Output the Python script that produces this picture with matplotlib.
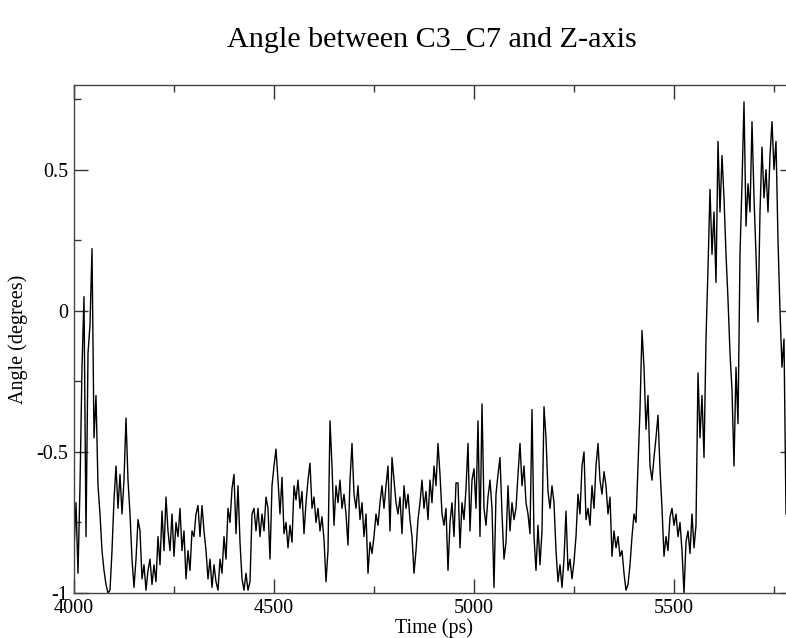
import numpy as np
import matplotlib
matplotlib.use("Agg")
import matplotlib.pyplot as plt
from matplotlib.ticker import MultipleLocator, FuncFormatter

t_start = 4000
t_step = 5
angle = [
    -0.85, -0.68, -0.93, -0.62, -0.20, 0.05, -0.80, -0.15, -0.05, 0.22,
    -0.45, -0.30, -0.62, -0.72, -0.85, -0.92, -0.97, -1.00, -0.99, -0.85,
    -0.67, -0.55, -0.70, -0.58, -0.72, -0.60, -0.38, -0.60, -0.72, -0.88,
    -0.98, -0.88, -0.74, -0.78, -0.95, -0.90, -0.99, -0.92, -0.88, -0.97,
    -0.90, -0.96, -0.80, -0.90, -0.71, -0.85, -0.66, -0.78, -0.85, -0.72,
    -0.87, -0.75, -0.80, -0.70, -0.85, -0.78, -0.95, -0.85, -0.92, -0.78,
    -0.80, -0.72, -0.69, -0.80, -0.69, -0.78, -0.85, -0.95, -0.88, -0.98,
    -0.90, -0.96, -0.99, -0.88, -0.93, -0.80, -0.88, -0.70, -0.75, -0.63,
    -0.58, -0.79, -0.62, -0.82, -0.95, -0.99, -0.93, -0.99, -0.96, -0.72,
    -0.70, -0.78, -0.70, -0.80, -0.72, -0.78, -0.66, -0.70, -0.88, -0.62,
    -0.55, -0.49, -0.60, -0.72, -0.59, -0.79, -0.75, -0.84, -0.76, -0.82,
    -0.62, -0.67, -0.60, -0.70, -0.64, -0.79, -0.68, -0.60, -0.54, -0.70,
    -0.66, -0.75, -0.70, -0.78, -0.73, -0.81, -0.96, -0.85, -0.39, -0.55,
    -0.76, -0.62, -0.68, -0.60, -0.70, -0.65, -0.72, -0.83, -0.60, -0.47,
    -0.65, -0.70, -0.62, -0.74, -0.68, -0.80, -0.72, -0.93, -0.82, -0.86,
    -0.80, -0.72, -0.76, -0.68, -0.62, -0.70, -0.62, -0.55, -0.78, -0.52,
    -0.60, -0.68, -0.72, -0.66, -0.79, -0.62, -0.70, -0.65, -0.74, -0.80,
    -0.93, -0.85, -0.74, -0.68, -0.60, -0.70, -0.64, -0.74, -0.60, -0.68,
    -0.55, -0.62, -0.47, -0.58, -0.72, -0.76, -0.70, -0.92, -0.75, -0.68,
    -0.80, -0.61, -0.61, -0.84, -0.68, -0.74, -0.63, -0.47, -0.78, -0.60,
    -0.56, -0.70, -0.39, -0.80, -0.33, -0.70, -0.76, -0.66, -0.60, -0.70,
    -0.98, -0.65, -0.58, -0.52, -0.72, -0.88, -0.82, -0.62, -0.78, -0.68,
    -0.74, -0.70, -0.58, -0.47, -0.62, -0.55, -0.68, -0.72, -0.79, -0.35,
    -0.80, -0.92, -0.76, -0.90, -0.78, -0.34, -0.45, -0.64, -0.70, -0.62,
    -0.68, -0.85, -0.96, -0.90, -0.98, -0.88, -0.71, -0.92, -0.88, -0.95,
    -0.89, -0.80, -0.65, -0.72, -0.55, -0.50, -0.74, -0.70, -0.76, -0.62,
    -0.70, -0.55, -0.47, -0.60, -0.65, -0.57, -0.62, -0.72, -0.66, -0.87,
    -0.78, -0.84, -0.80, -0.87, -0.85, -0.93, -0.99, -0.97, -0.90, -0.80,
    -0.72, -0.75, -0.55, -0.35, -0.07, -0.20, -0.42, -0.30, -0.55, -0.60,
    -0.52, -0.45, -0.37, -0.56, -0.70, -0.87, -0.80, -0.85, -0.73, -0.70,
    -0.76, -0.72, -0.80, -0.75, -0.85, -1.00, -0.82, -0.78, -0.86, -0.72,
    -0.84, -0.76, -0.22, -0.45, -0.30, -0.52, -0.10, 0.15, 0.43, 0.20,
    0.35, 0.10, 0.60, 0.35, 0.55, 0.40, 0.20, 0.04, -0.15, -0.28,
    -0.55, -0.20, -0.40, 0.20, 0.45, 0.74, 0.30, 0.45, 0.35, 0.67,
    0.40, 0.20, -0.04, 0.35, 0.58, 0.40, 0.50, 0.35, 0.55, 0.67,
    0.50, 0.60, 0.25, 0.00, -0.20, -0.10, -0.72,
]
time_ps = t_start + t_step * np.arange(len(angle))

x_ticks = [4000, 4500, 5000, 5500]
y_ticks = [-1, -0.5, 0, 0.5]

title = "Angle between C3_C7 and Z-axis"
xlabel = "Time (ps)"
ylabel = "Angle (degrees)"

# ---- style ----
plt.rcParams["font.family"] = ["Liberation Serif", "DejaVu Serif"]
plt.rcParams["axes.unicode_minus"] = False

W, H = 786, 638
fig = plt.figure(figsize=(W / 100, H / 100), dpi=100)
ax_left, ax_right, ax_top, ax_bottom = 74, 794, 85, 593
ax = fig.add_axes([ax_left / W, (H - ax_bottom) / H,
                   (ax_right - ax_left) / W, (ax_bottom - ax_top) / H])

ax.plot(time_ps, angle, color="black", lw=1.0)

ax.set_xlim(4000, 5800)
ax.set_ylim(-1, 0.8)
ax.set_xticks(x_ticks)
ax.set_yticks(y_ticks)
ax.xaxis.set_minor_locator(MultipleLocator(250))
ax.yaxis.set_minor_locator(MultipleLocator(0.25))
ax.yaxis.set_major_formatter(FuncFormatter(lambda v, p: "%g" % v))
ax.xaxis.set_major_formatter(FuncFormatter(lambda v, p: "%g" % v))

ax.tick_params(which="both", direction="in", top=True, right=True,
               labelsize=14.5, colors="#333333", labelcolor="black", width=1.0)
ax.tick_params(which="major", length=10, pad=4)
ax.tick_params(which="minor", length=5)
for s in ax.spines.values():
    s.set_color("#444444")
    s.set_linewidth(1.0)

ax.set_xlabel(xlabel, fontsize=14.5)
ax.set_ylabel(ylabel, fontsize=14.5)
ax.xaxis.set_label_coords(0.5, -(628 - ax_bottom) / (ax_bottom - ax_top), transform=ax.transAxes)
ax.yaxis.set_label_coords(-(ax_left - 18) / (ax_right - ax_left), 0.5)
ax.xaxis.label.set_va("center")
ax.yaxis.label.set_va("center")

fig.text(432 / W, 1 - 40 / H, title, fontsize=21.7, ha="center", va="center")

fig.savefig("out.png", dpi=100)
